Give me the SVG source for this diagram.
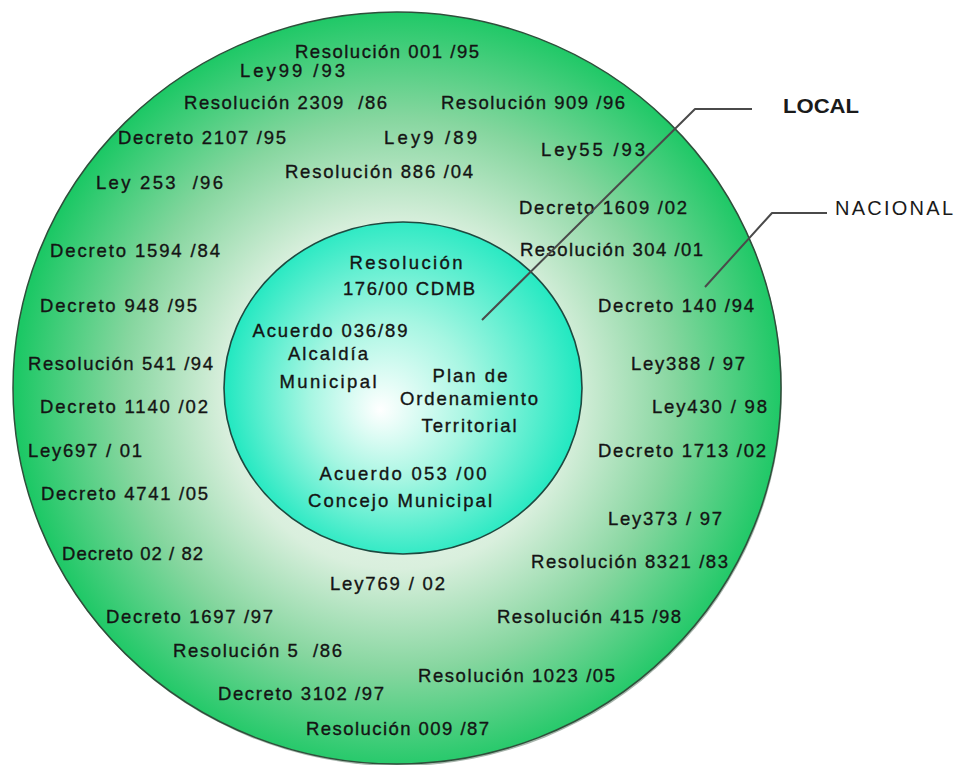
<svg xmlns="http://www.w3.org/2000/svg" width="963" height="765" viewBox="0 0 963 765">
  <style>
    .t { font-family: "Liberation Sans", Arial, sans-serif; font-size: 18.5px; fill: #141414; stroke: #141414; stroke-width: 0.35px; white-space: pre; }
    .c { text-anchor: middle; }
    .lead { fill: none; stroke: #4a4a4a; stroke-width: 2; stroke-linejoin: round; }
    .tag { font-family: "Liberation Sans", Arial, sans-serif; font-size: 20px; fill: #1a1a1a; }
  </style>
  <defs>
    <radialGradient id="gOuter" gradientUnits="userSpaceOnUse" cx="400" cy="392" r="384" fx="395" fy="400">
      <stop offset="0" stop-color="#ffffff"/>
      <stop offset="0.45" stop-color="#d9efdd"/>
      <stop offset="0.72" stop-color="#86d69f"/>
      <stop offset="1" stop-color="#1cc865"/>
    </radialGradient>
    <radialGradient id="gInner" gradientUnits="userSpaceOnUse" cx="403" cy="388" r="180" fx="380" fy="410">
      <stop offset="0" stop-color="#ffffff"/>
      <stop offset="0.45" stop-color="#a6f6e2"/>
      <stop offset="1" stop-color="#1fe8c0"/>
    </radialGradient>
  </defs>

  <!-- national ring -->
  <g id="nacional">
    <ellipse cx="398" cy="390" rx="384" ry="376" fill="#3c5a48" opacity="0.45"/>
    <ellipse cx="397" cy="388" rx="384" ry="376" fill="url(#gOuter)" stroke="#2f4f3b" stroke-width="1.5"/>
    <text class="t" x="295" y="58" textLength="184" lengthAdjust="spacing">Resolución 001 /95</text>
    <text class="t" x="240" y="77" textLength="105" lengthAdjust="spacing">Ley99 /93</text>
    <text class="t" x="184" y="109" textLength="203" lengthAdjust="spacing" xml:space="preserve">Resolución 2309  /86</text>
    <text class="t" x="441" y="109" textLength="184" lengthAdjust="spacing">Resolución 909 /96</text>
    <text class="t" x="118" y="144" textLength="168" lengthAdjust="spacing">Decreto 2107 /95</text>
    <text class="t" x="384" y="144" textLength="93" lengthAdjust="spacing">Ley9 /89</text>
    <text class="t" x="541" y="156" textLength="104" lengthAdjust="spacing">Ley55 /93</text>
    <text class="t" x="285" y="178" textLength="188" lengthAdjust="spacing">Resolución 886 /04</text>
    <text class="t" x="96" y="189" textLength="127" lengthAdjust="spacing" xml:space="preserve">Ley 253  /96</text>
    <text class="t" x="519" y="214" textLength="168" lengthAdjust="spacing">Decreto 1609 /02</text>
    <text class="t" x="50" y="257" textLength="170" lengthAdjust="spacing">Decreto 1594 /84</text>
    <text class="t" x="520" y="256" textLength="183" lengthAdjust="spacing">Resolución 304 /01</text>
    <text class="t" x="40" y="312" textLength="157" lengthAdjust="spacing">Decreto 948 /95</text>
    <text class="t" x="598" y="312" textLength="156" lengthAdjust="spacing">Decreto 140 /94</text>
    <text class="t" x="28" y="370" textLength="185" lengthAdjust="spacing">Resolución 541 /94</text>
    <text class="t" x="631" y="370" textLength="114" lengthAdjust="spacing">Ley388 / 97</text>
    <text class="t" x="40" y="413" textLength="168" lengthAdjust="spacing">Decreto 1140 /02</text>
    <text class="t" x="652" y="413" textLength="115" lengthAdjust="spacing">Ley430 / 98</text>
    <text class="t" x="28" y="457" textLength="114" lengthAdjust="spacing">Ley697 / 01</text>
    <text class="t" x="598" y="457" textLength="168" lengthAdjust="spacing">Decreto 1713 /02</text>
    <text class="t" x="41" y="500" textLength="167" lengthAdjust="spacing">Decreto 4741 /05</text>
    <text class="t" x="608" y="525" textLength="114" lengthAdjust="spacing">Ley373 / 97</text>
    <text class="t" x="62" y="560" textLength="141" lengthAdjust="spacing">Decreto 02 / 82</text>
    <text class="t" x="531" y="568" textLength="197" lengthAdjust="spacing">Resolución 8321 /83</text>
    <text class="t" x="330" y="590" textLength="115" lengthAdjust="spacing">Ley769 / 02</text>
    <text class="t" x="106" y="623" textLength="167" lengthAdjust="spacing">Decreto 1697 /97</text>
    <text class="t" x="497" y="623" textLength="184" lengthAdjust="spacing">Resolución 415 /98</text>
    <text class="t" x="173" y="657" textLength="169" lengthAdjust="spacing" xml:space="preserve">Resolución 5  /86</text>
    <text class="t" x="418" y="682" textLength="197" lengthAdjust="spacing">Resolución 1023 /05</text>
    <text class="t" x="218" y="700" textLength="166" lengthAdjust="spacing">Decreto 3102 /97</text>
    <text class="t" x="306" y="735" textLength="183" lengthAdjust="spacing">Resolución 009 /87</text>
  </g>

  <!-- local core -->
  <g id="local">
    <ellipse cx="403" cy="388" rx="179" ry="166" fill="url(#gInner)" stroke="#1d4a40" stroke-width="1.6"/>
    <text class="t c" x="406" y="269" textLength="113" lengthAdjust="spacing">Resolución</text>
    <text class="t c" x="409" y="295" textLength="132" lengthAdjust="spacing">176/00 CDMB</text>
    <text class="t c" x="330" y="337" textLength="155" lengthAdjust="spacing">Acuerdo 036/89</text>
    <text class="t c" x="328" y="360" textLength="80" lengthAdjust="spacing">Alcaldía</text>
    <text class="t c" x="328" y="388" textLength="97" lengthAdjust="spacing">Municipal</text>
    <text class="t c" x="470" y="382" textLength="75" lengthAdjust="spacing">Plan de</text>
    <text class="t c" x="469" y="405" textLength="138" lengthAdjust="spacing">Ordenamiento</text>
    <text class="t c" x="469" y="432" textLength="95" lengthAdjust="spacing">Territorial</text>
    <text class="t c" x="403" y="480" textLength="167" lengthAdjust="spacing">Acuerdo 053 /00</text>
    <text class="t c" x="400" y="507" textLength="184" lengthAdjust="spacing">Concejo Municipal</text>
  </g>

  <!-- leader lines to the level tags -->
  <g id="connectors">
    <polyline class="lead" points="482,320 695,109 752,109"/>
    <polyline class="lead" points="705,287 772,213 827,213"/>
  </g>

  <g id="tag-local">
    <text class="tag" x="783" y="113" font-weight="bold" textLength="76" lengthAdjust="spacingAndGlyphs">LOCAL</text>
  </g>
  <g id="tag-nacional">
    <text class="tag" x="835" y="215" textLength="118" lengthAdjust="spacing">NACIONAL</text>
  </g>
</svg>
